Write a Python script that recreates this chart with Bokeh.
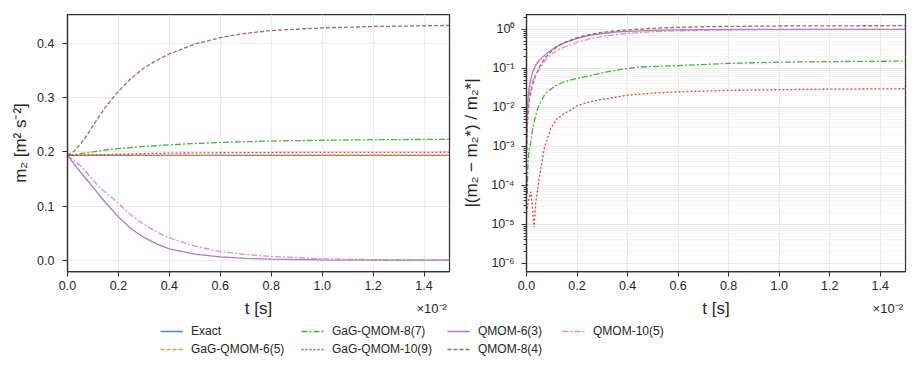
from bokeh.plotting import figure
from bokeh.layouts import column, row
from bokeh.models import (Range1d, Legend, LegendItem, LinearAxis, FixedTicker,
                          CustomJSTickFormatter, PrintfTickFormatter)
from bokeh.embed import file_html
from bokeh.resources import INLINE

# ---------------- data (t in units of 1e-2 s) ----------------
# left panel: m2 [m^2 s^-2]
t_exact = [0.0, 1.5]
m2_exact = [0.1935, 0.1935]

t_gag6 = [0.0, 1.5]
m2_gag6 = [0.1935, 0.1935]

t_gag8 = [0.0, 0.025, 0.05, 0.1, 0.15, 0.2, 0.3, 0.4, 0.5, 0.6, 0.8, 1.0, 1.2, 1.5]
m2_gag8 = [0.1935, 0.1950, 0.1968, 0.2000, 0.2035, 0.2060, 0.2100, 0.2130, 0.2155, 0.2175,
           0.2200, 0.2215, 0.2225, 0.2232]

t_gag10 = [0.0, 0.05, 0.1, 0.15, 0.2, 0.3, 0.4, 0.6, 0.8, 1.0, 1.5]
m2_gag10 = [0.1935, 0.1937, 0.1945, 0.1950, 0.1958, 0.1967, 0.1977, 0.1984, 0.1988, 0.1990, 0.1993]

t_q6 = [0.0, 0.025, 0.05, 0.075, 0.1, 0.125, 0.15, 0.2, 0.25, 0.3, 0.35, 0.4, 0.5, 0.6,
        0.7, 0.8, 1.0, 1.2, 1.5]
m2_q6 = [0.1935, 0.178, 0.163, 0.149, 0.135, 0.120, 0.106, 0.080, 0.058, 0.042, 0.030,
         0.021, 0.011, 0.0062, 0.0035, 0.0020, 0.0007, 0.0002, 0.00003]

t_q8 = [0.0, 0.025, 0.05, 0.075, 0.1, 0.125, 0.15, 0.175, 0.2, 0.25, 0.3, 0.35, 0.4, 0.5,
        0.6, 0.7, 0.8, 1.0, 1.2, 1.5]
m2_q8 = [0.1935, 0.201, 0.214, 0.230, 0.248, 0.266, 0.283, 0.298, 0.312, 0.336, 0.355,
         0.369, 0.381, 0.399, 0.411, 0.419, 0.424, 0.429, 0.4315, 0.4335]

t_q10 = [0.0, 0.025, 0.05, 0.075, 0.1, 0.125, 0.15, 0.2, 0.25, 0.3, 0.35, 0.4, 0.5, 0.6,
         0.7, 0.8, 1.0, 1.2, 1.5]
m2_q10 = [0.1935, 0.184, 0.175, 0.162, 0.148, 0.135, 0.125, 0.105, 0.083, 0.066, 0.052,
          0.041, 0.026, 0.016, 0.0105, 0.007, 0.0025, 0.001, 0.0003]

# right panel: relative error |(m2 - m2*) / m2*|
te_gag8 = [0.003, 0.004, 0.006, 0.01, 0.017, 0.025, 0.03, 0.04, 0.05, 0.075, 0.11, 0.15,
           0.2, 0.25, 0.3, 0.37, 0.45, 0.6, 0.8, 1.0, 1.2, 1.5]
err_gag8 = [6e-5, 1.2e-4, 4e-4, 8e-4, 1.3e-3, 2.9e-3, 4.3e-3, 7.5e-3, 0.0115, 0.023, 0.034,
            0.046, 0.055, 0.064, 0.077, 0.093, 0.108, 0.118, 0.134, 0.144, 0.149, 0.153]

te_gag10 = [0.0, 0.008, 0.017, 0.024, 0.030, 0.037, 0.05, 0.07, 0.096, 0.122, 0.15, 0.175,
            0.2, 0.25, 0.3, 0.4, 0.5, 0.6, 0.8, 1.0, 1.2, 1.5]
err_gag10 = [2e-5, 4e-5, 6.8e-5, 2.5e-5, 8.3e-6, 3.7e-5, 1.5e-4, 8.7e-4, 2.9e-3, 5.2e-3,
             7.0e-3, 8.5e-3, 0.011, 0.0138, 0.016, 0.0205, 0.0232, 0.025, 0.0272, 0.0284,
             0.0292, 0.030]

te_q = [0.001, 0.002, 0.004, 0.007, 0.01, 0.015, 0.025, 0.035, 0.05, 0.075, 0.1, 0.125,
        0.15, 0.2, 0.25, 0.3, 0.35, 0.4, 0.5, 0.6, 0.7, 0.8, 1.0, 1.2, 1.5]
err_q6 = [0.002, 0.005, 0.011, 0.02, 0.03, 0.045, 0.085, 0.115, 0.16, 0.225, 0.30, 0.38,
          0.45, 0.59, 0.70, 0.78, 0.845, 0.89, 0.943, 0.968, 0.982, 0.99, 0.996, 0.999, 1.0]
err_q8 = [0.0008, 0.0018, 0.004, 0.008, 0.013, 0.021, 0.039, 0.063, 0.106, 0.19, 0.28,
          0.375, 0.46, 0.61, 0.74, 0.835, 0.907, 0.97, 1.062, 1.124, 1.165, 1.19, 1.217,
          1.23, 1.24]
err_q10 = [0.0012, 0.003, 0.007, 0.013, 0.019, 0.03, 0.048, 0.065, 0.095, 0.16, 0.235,
           0.30, 0.35, 0.46, 0.57, 0.66, 0.73, 0.79, 0.866, 0.917, 0.946, 0.964, 0.987,
           0.995, 0.998]

x_ticks = [0.0, 0.2, 0.4, 0.6, 0.8, 1.0, 1.2, 1.4]
y1_ticks = [0.0, 0.1, 0.2, 0.3, 0.4]
y2_ticks = [1e-6, 1e-5, 1e-4, 1e-3, 1e-2, 1e-1, 1e0]
x_offset_text = "×10⁻²"      # scale factor of the t axis
x_offset_pos = 1.43          # where the scale factor text sits along the t axis

labels = ["Exact", "GaG-QMOM-6(5)", "GaG-QMOM-8(7)", "GaG-QMOM-10(9)",
          "QMOM-6(3)", "QMOM-8(4)", "QMOM-10(5)"]

# ---------------- styling ----------------
FONT = "Liberation Sans"
INK = "#333333"
TXT = "#262626"
STY = {
    "Exact": dict(line_color="#1f77b4", line_dash="solid"),
    "GaG-QMOM-6(5)": dict(line_color="#ff7f0e", line_dash="4 2"),
    "GaG-QMOM-8(7)": dict(line_color="#2ca02c", line_dash="6 2 2 2"),
    "GaG-QMOM-10(9)": dict(line_color="#d62728", line_dash="2 2"),
    "QMOM-6(3)": dict(line_color="#9467bd", line_dash="solid"),
    "QMOM-8(4)": dict(line_color="#8c564b", line_dash="4 2"),
    "QMOM-10(5)": dict(line_color="#e377c2", line_dash="6 2 2 2"),
}
LW = 1.3
ALPHA = 0.85

left_series = [
    ("Exact", t_exact, m2_exact), ("GaG-QMOM-6(5)", t_gag6, m2_gag6),
    ("GaG-QMOM-8(7)", t_gag8, m2_gag8), ("GaG-QMOM-10(9)", t_gag10, m2_gag10),
    ("QMOM-6(3)", t_q6, m2_q6), ("QMOM-8(4)", t_q8, m2_q8), ("QMOM-10(5)", t_q10, m2_q10),
]
right_series = [
    ("GaG-QMOM-8(7)", te_gag8, err_gag8), ("GaG-QMOM-10(9)", te_gag10, err_gag10),
    ("QMOM-6(3)", te_q, err_q6), ("QMOM-8(4)", te_q, err_q8), ("QMOM-10(5)", te_q, err_q10),
]


def style(p):
    p.background_fill_color = "white"
    p.border_fill_color = "white"
    p.outline_line_color = INK
    p.outline_line_width = 1.25
    for ax in p.axis:
        ax.axis_line_color = INK
        ax.axis_line_width = 1.25
        ax.major_tick_line_color = INK
        ax.major_tick_line_width = 1.0
        ax.major_tick_in = 0
        ax.major_tick_out = 5
        ax.minor_tick_line_color = None
        ax.major_label_text_font = FONT
        ax.major_label_text_font_size = "12.5px"
        ax.major_label_text_color = TXT
        ax.axis_label_text_font = FONT
        ax.axis_label_text_font_size = "17px"
        ax.axis_label_text_font_style = "normal"
        ax.axis_label_text_color = TXT
    p.xaxis.major_label_standoff = 4
    p.xgrid.grid_line_color = "#e6e6e6"
    p.ygrid.grid_line_color = "#e6e6e6"
    p.xgrid.grid_line_width = 0.8
    p.ygrid.grid_line_width = 0.8
    p.xaxis.ticker = FixedTicker(ticks=x_ticks)
    p.xaxis.formatter = PrintfTickFormatter(format="%.1f")


def add_time_label(p):
    # outer x axis: carries the axis title and the scale factor text
    ax = LinearAxis(ticker=FixedTicker(ticks=[x_offset_pos]),
                    major_label_overrides={x_offset_pos: x_offset_text},
                    axis_label="t [s]")
    ax.axis_line_color = None
    ax.major_tick_line_color = None
    ax.minor_tick_line_color = None
    ax.major_tick_out = 0
    ax.major_label_standoff = 8
    ax.major_label_text_font = FONT
    ax.major_label_text_font_size = "13px"
    ax.major_label_text_color = TXT
    ax.axis_label_text_font = FONT
    ax.axis_label_text_font_size = "17px"
    ax.axis_label_text_font_style = "normal"
    ax.axis_label_text_color = TXT
    ax.axis_label_standoff = -20
    p.add_layout(ax, "below")


# ---------------- left panel ----------------
p1 = figure(width=459, height=321, x_range=Range1d(0, 1.5), y_range=Range1d(-0.0209, 0.4537),
            output_backend="svg", toolbar_location=None,
            min_border_left=67, min_border_right=10, min_border_top=14, min_border_bottom=50)
for name, t, v in left_series:
    p1.line(t, v, line_width=LW, line_alpha=ALPHA, **STY[name])
style(p1)
p1.yaxis.ticker = FixedTicker(ticks=y1_ticks)
p1.yaxis.formatter = PrintfTickFormatter(format="%.1f")
p1.yaxis.major_label_standoff = 8
p1.yaxis.axis_label_standoff = 4
p1.yaxis.axis_label = "m₂ [m² s⁻²]"
add_time_label(p1)

# ---------------- right panel ----------------
p2 = figure(width=454, height=321, x_range=Range1d(0, 1.5), y_range=Range1d(6.2e-7, 2.4),
            y_axis_type="log", output_backend="svg", toolbar_location=None,
            min_border_left=66, min_border_right=8, min_border_top=14, min_border_bottom=50)
for name, t, v in right_series:
    p2.line(t, v, line_width=LW, line_alpha=ALPHA, **STY[name])
style(p2)
minor = [k * d for d in y2_ticks for k in range(2, 10)]
p2.yaxis.ticker = FixedTicker(ticks=y2_ticks, minor_ticks=minor)
p2.yaxis.formatter = CustomJSTickFormatter(code="""
    const sup = {'0':'\u2070','1':'\u00b9','2':'\u00b2','3':'\u00b3','4':'\u2074',
                 '5':'\u2075','6':'\u2076','7':'\u2077','8':'\u2078','9':'\u2079','-':'\u207b'};
    const e = Math.round(Math.log10(tick));
    return '10' + String(e).split('').map(c => sup[c]).join('');
""")
p2.yaxis.minor_tick_line_color = INK
p2.yaxis.minor_tick_in = 0
p2.yaxis.minor_tick_out = 3
p2.yaxis.major_label_standoff = 7
p2.yaxis.axis_label_standoff = 7
p2.ygrid.minor_grid_line_color = "#ececec"
p2.ygrid.minor_grid_line_width = 0.6
p2.yaxis.axis_label = "|(m₂ − m₂*) / m₂*|"
add_time_label(p2)

# ---------------- legend strip ----------------
leg = figure(width=906, height=40, x_range=Range1d(2, 3), y_range=Range1d(2, 3),
             x_axis_location=None, y_axis_location=None, output_backend="svg",
             toolbar_location=None, min_border=0)
leg.outline_line_color = None
leg.background_fill_color = "white"
leg.border_fill_color = "white"
leg.xgrid.visible = False
leg.ygrid.visible = False
rends = {}
for name, t, v in left_series:
    rends[name] = leg.line(t, v, line_width=1.5, line_alpha=ALPHA, **STY[name])

columns = [(["Exact", "GaG-QMOM-6(5)"], 160), (["GaG-QMOM-8(7)", "GaG-QMOM-10(9)"], 301),
           (["QMOM-6(3)", "QMOM-8(4)"], 447), (["QMOM-10(5)"], 562)]
for names, xpos in columns:
    items = [LegendItem(label=n, renderers=[rends[n]]) for n in names]
    lg = Legend(items=items, location=(xpos, 40 - 1 - 18 * len(names)),
                border_line_color=None, background_fill_alpha=0, padding=0, margin=0,
                spacing=0, glyph_width=23, glyph_height=18, label_height=18,
                label_standoff=8, label_text_font=FONT, label_text_font_size="12px",
                label_text_color=TXT)
    leg.add_layout(lg, "center")

layout = column(row(p1, p2), leg)
open("out.html", "w").write(file_html(layout, INLINE))
